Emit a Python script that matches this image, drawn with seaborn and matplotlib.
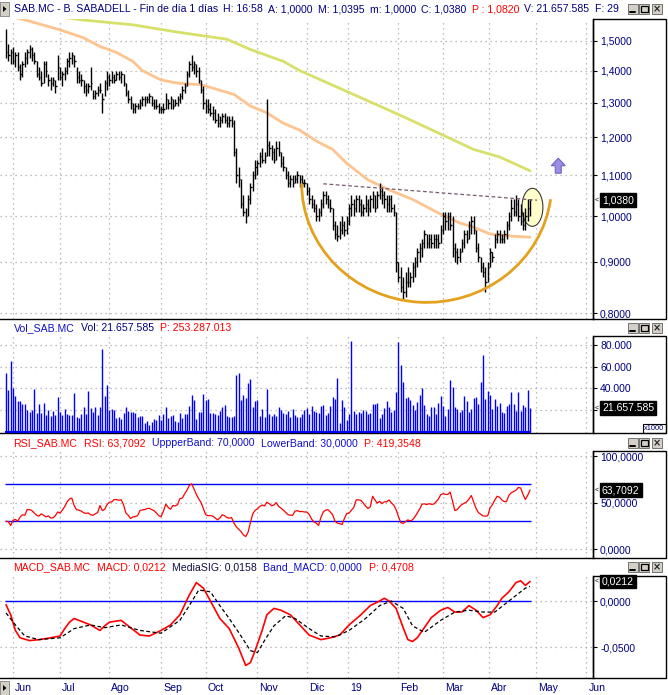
import numpy as np
import seaborn as sns
import matplotlib
matplotlib.use("Agg")
import matplotlib.pyplot as plt
from matplotlib.patches import Rectangle, Ellipse, Arc, Polygon
from matplotlib.lines import Line2D
from matplotlib.transforms import ScaledTranslation
from matplotlib.ticker import NullLocator

# ---------------- data ----------------
months = ["Jun", "Jul", "Ago", "Sep", "Oct", "Nov", "Dic", "19", "Feb", "Mar", "Abr", "May", "Jun"]
month_day = [3, 23, 44, 66, 85, 107, 128, 145.5, 167, 186, 205.5, 225.5, 247]

highs = [
    1.54, 1.49, 1.47, 1.48, 1.46, 1.46, 1.42, 1.43, 1.46, 1.47,
    1.485, 1.48, 1.46, 1.43, 1.41, 1.40, 1.43, 1.43, 1.39, 1.38,
    1.38, 1.37, 1.45, 1.41, 1.40, 1.41, 1.44, 1.46, 1.46, 1.45,
    1.41, 1.40, 1.39, 1.37, 1.36, 1.36, 1.41, 1.34, 1.34, 1.35,
    1.36, 1.33, 1.37, 1.40, 1.39, 1.40, 1.39, 1.40, 1.40, 1.40,
    1.39, 1.36, 1.34, 1.32, 1.30, 1.30, 1.30, 1.31, 1.32, 1.32,
    1.32, 1.33, 1.32, 1.31, 1.31, 1.30, 1.29, 1.30, 1.33, 1.31,
    1.32, 1.31, 1.31, 1.32, 1.33, 1.35, 1.36, 1.40, 1.43, 1.45,
    1.43, 1.42, 1.41, 1.37, 1.35, 1.31, 1.31, 1.30, 1.29, 1.28,
    1.27, 1.26, 1.27, 1.27, 1.26, 1.26, 1.26, 1.25, 1.17, 1.12,
    1.09, 1.05, 1.02, 1.05, 1.08, 1.11, 1.14, 1.14, 1.16, 1.17,
    1.16, 1.31, 1.19, 1.18, 1.17, 1.19, 1.19, 1.16, 1.15, 1.12,
    1.11, 1.10, 1.10, 1.10, 1.11, 1.10, 1.10, 1.09, 1.08, 1.07,
    1.05, 1.04, 1.03, 1.02, 1.04, 1.06, 1.06, 1.05, 1.04, 1.02,
    0.99, 0.98, 0.99, 1.00, 0.99, 1.00, 1.03, 1.05, 1.04, 1.05,
    1.05, 1.04, 1.03, 1.05, 1.04, 1.05, 1.06, 1.05, 1.06, 1.08,
    1.07, 1.06, 1.05, 1.05, 1.05, 1.03, 1.01, 0.90, 0.89, 0.87,
    0.88, 0.89, 0.88, 0.90, 0.91, 0.93, 0.94, 0.95, 0.97, 0.96,
    0.96, 0.96, 0.96, 0.96, 0.96, 0.98, 1.01, 1.01, 1.01, 1.01,
    1.00, 0.94, 0.93, 0.93, 0.95, 0.97, 0.97, 0.99, 1.00, 1.00,
    0.97, 0.94, 0.91, 0.90, 0.89, 0.90, 0.93, 0.92, 0.96, 0.97,
    0.97, 0.96, 0.97, 0.99, 1.01, 1.04, 1.04, 1.05, 1.04, 1.03,
    1.01, 1.02, 1.04, 1.0395]

lows = [
    1.44, 1.43, 1.42, 1.42, 1.41, 1.40, 1.37, 1.38, 1.41, 1.42,
    1.44, 1.43, 1.42, 1.38, 1.37, 1.35, 1.36, 1.38, 1.35, 1.34,
    1.35, 1.33, 1.37, 1.37, 1.35, 1.37, 1.39, 1.41, 1.42, 1.41,
    1.36, 1.36, 1.35, 1.33, 1.32, 1.33, 1.34, 1.31, 1.31, 1.32,
    1.33, 1.27, 1.32, 1.34, 1.35, 1.36, 1.36, 1.37, 1.37, 1.36,
    1.35, 1.32, 1.30, 1.28, 1.27, 1.27, 1.28, 1.28, 1.29, 1.29,
    1.30, 1.30, 1.29, 1.28, 1.28, 1.27, 1.27, 1.27, 1.28, 1.28,
    1.28, 1.28, 1.29, 1.29, 1.30, 1.31, 1.33, 1.35, 1.38, 1.40,
    1.39, 1.38, 1.36, 1.33, 1.28, 1.27, 1.27, 1.26, 1.25, 1.24,
    1.23, 1.23, 1.24, 1.24, 1.23, 1.23, 1.23, 1.15, 1.08, 1.07,
    1.02, 1.00, 0.985, 1.00, 1.03, 1.06, 1.09, 1.10, 1.12, 1.13,
    1.13, 1.15, 1.15, 1.14, 1.13, 1.14, 1.15, 1.12, 1.11, 1.09,
    1.07, 1.07, 1.07, 1.08, 1.08, 1.07, 1.07, 1.07, 1.05, 1.03,
    1.02, 1.01, 0.99, 0.99, 1.00, 1.02, 1.03, 1.02, 1.01, 0.97,
    0.95, 0.945, 0.95, 0.96, 0.955, 0.96, 0.98, 1.00, 1.00, 1.01,
    1.01, 1.00, 1.00, 1.01, 1.00, 1.01, 1.02, 1.01, 1.02, 1.04,
    1.03, 1.02, 1.01, 1.01, 1.01, 1.00, 0.88, 0.86, 0.84, 0.825,
    0.83, 0.85, 0.85, 0.86, 0.87, 0.89, 0.90, 0.91, 0.93, 0.93,
    0.93, 0.93, 0.93, 0.93, 0.93, 0.94, 0.96, 0.97, 0.97, 0.97,
    0.91, 0.90, 0.895, 0.90, 0.92, 0.93, 0.94, 0.95, 0.96, 0.96,
    0.92, 0.90, 0.88, 0.87, 0.84, 0.86, 0.89, 0.90, 0.93, 0.94,
    0.94, 0.94, 0.94, 0.95, 0.97, 0.99, 1.00, 1.00, 0.99, 0.98,
    0.97, 0.97, 0.99, 1.00]

closes = [
    1.46, 1.45, 1.46, 1.43, 1.45, 1.41, 1.39, 1.42, 1.44, 1.46,
    1.47, 1.45, 1.43, 1.39, 1.38, 1.36, 1.42, 1.40, 1.37, 1.36,
    1.37, 1.35, 1.41, 1.38, 1.39, 1.40, 1.43, 1.44, 1.45, 1.43,
    1.38, 1.37, 1.37, 1.35, 1.34, 1.35, 1.36, 1.32, 1.33, 1.34,
    1.34, 1.31, 1.36, 1.38, 1.37, 1.38, 1.37, 1.39, 1.38, 1.39,
    1.36, 1.33, 1.31, 1.30, 1.28, 1.29, 1.29, 1.30, 1.31, 1.31,
    1.31, 1.32, 1.30, 1.29, 1.29, 1.28, 1.28, 1.28, 1.31, 1.30,
    1.31, 1.29, 1.30, 1.31, 1.32, 1.34, 1.35, 1.39, 1.42, 1.41,
    1.42, 1.40, 1.37, 1.34, 1.30, 1.29, 1.28, 1.27, 1.27, 1.25,
    1.24, 1.25, 1.26, 1.25, 1.24, 1.25, 1.24, 1.16, 1.10, 1.09,
    1.03, 1.01, 1.00, 1.04, 1.07, 1.10, 1.12, 1.13, 1.15, 1.14,
    1.15, 1.18, 1.17, 1.16, 1.14, 1.17, 1.16, 1.13, 1.12, 1.10,
    1.08, 1.09, 1.08, 1.09, 1.10, 1.09, 1.08, 1.08, 1.06, 1.04,
    1.03, 1.02, 1.00, 1.01, 1.03, 1.05, 1.04, 1.03, 1.02, 0.98,
    0.96, 0.955, 0.97, 0.98, 0.97, 0.99, 1.02, 1.03, 1.02, 1.04,
    1.03, 1.01, 1.02, 1.03, 1.02, 1.04, 1.05, 1.02, 1.05, 1.06,
    1.05, 1.04, 1.03, 1.04, 1.02, 1.01, 0.90, 0.87, 0.85, 0.84,
    0.86, 0.86, 0.87, 0.89, 0.90, 0.92, 0.93, 0.94, 0.96, 0.94,
    0.95, 0.94, 0.95, 0.95, 0.94, 0.97, 1.00, 0.99, 1.00, 0.98,
    0.93, 0.92, 0.91, 0.92, 0.94, 0.96, 0.95, 0.98, 0.99, 0.97,
    0.93, 0.91, 0.89, 0.88, 0.86, 0.89, 0.92, 0.91, 0.95, 0.96,
    0.95, 0.95, 0.96, 0.98, 1.00, 1.02, 1.01, 1.03, 1.00, 0.99,
    0.98, 1.00, 1.02, 1.038]

# volume in thousands
volume_k = [
    54, 38.6, 65.4, 40, 33, 28, 28, 25.6, 25.6, 20,
    18, 20, 39.5, 17.3, 25.6, 17.3, 26.5, 15.4, 20, 14.5,
    19, 15.4, 32, 18, 15.4, 21, 16.4, 15.4, 15.4, 35.8,
    13.6, 12.7, 16.4, 22.8, 16.4, 37.6, 22, 18, 22.8, 15.4,
    22.8, 76.5, 33, 43.2, 20, 21, 20, 12.7, 13.6, 11.7,
    17.3, 22.8, 19, 18, 18, 17.3, 13.6, 14.5, 14.5, 8,
    9.9, 6.2, 9, 11.7, 10.8, 15.4, 10.8, 16.4, 22.8, 12.7,
    14.5, 15.4, 9.9, 9, 17.3, 12.7, 16.4, 16.4, 23.8, 34,
    29.3, 11.7, 18, 18, 34.9, 29.3, 30.2, 17.3, 17.3, 16.4,
    15.4, 19, 22.8, 24.7, 14.5, 13.6, 13.6, 14.5, 52.5, 54.3,
    29.3, 34, 31.2, 45, 48.8, 22.8, 28.4, 29.3, 14.5, 21,
    13.6, 39.5, 16.4, 14.5, 16.4, 14.5, 22.8, 20, 17.3, 16.4,
    19, 13.6, 21, 15.4, 13.6,
    13.3, 16, 19.8, 21.6, 16, 23.5, 18.8, 17.9, 17, 23.5,
    24.4, 15.1, 17, 23.5, 31.8, 29.9, 49.4, 7.7, 29, 22.5,
    10.5, 16, 84, 18.8, 16, 17.9, 17, 19.8, 18.8, 16,
    17, 25.3, 25.3, 26.2, 12.3, 16, 21.6, 28.1, 22.5, 17.9,
    19.8, 36.4, 82.7, 61.4, 45.7, 30.9, 31.8, 29, 24.4, 19.8,
    27.2, 33.6, 40.1, 24.4, 16, 14.2, 22.5, 22.5, 16, 26.2,
    32.7, 23.5, 14.2, 20.7, 47.5, 41, 22.5, 20.7, 17.9, 19.8,
    32.7, 28.1, 17.9, 20.7, 30.9, 31.8, 25.3, 45.7, 70.7, 29.9,
    37.3, 33.6, 20.7, 29.9, 23.5, 26.2, 17.9, 17, 23.5, 25.3,
    36.4, 25.3, 18.8, 36.4, 18.8, 24.4, 22.5, 38.3, 21.657]

rsi = [
    30, 29.5, 25.5, 31, 32, 30, 34.5, 37, 36.5, 42.6,
    42.6, 41.5, 39, 36.5, 35.5, 38, 36.5, 34.7, 35.8, 33.5,
    33.8, 36, 40, 38.8, 42, 46, 51, 54, 55, 47,
    42.5, 42, 41, 39.2, 38.5, 39, 37, 36.5, 38, 39.5,
    47, 41.5, 43, 48, 50.5, 51, 53.4, 53.4, 52.7, 53.3,
    48, 39, 36.5, 33, 34.7, 35, 36, 41.5, 42.3, 42.6,
    43.7, 44, 42.6, 41.4, 39, 36, 34.9, 41, 48.5, 45,
    43, 47, 46.6, 48, 54.3, 55, 59.5, 63.5, 68.5, 70.5,
    65, 59, 54.3, 50.2, 43.5, 37, 36, 36.2, 35.5, 33.6,
    31.5, 33.5, 37, 36, 34, 33.3, 34, 28, 24, 21.5,
    18.8, 15.3, 13.5, 18, 28.6, 38, 41.8, 43.4, 46, 47.5,
    46.5, 50.5, 49, 46.8, 47.5, 50.2, 46, 44.2, 42, 39.5,
    37.1, 36.5, 36.5, 41, 41.5, 40.4, 40.6, 40, 40, 37.5,
    32.5, 29.4, 28, 25.5, 34, 40, 42, 42.5, 40, 37,
    30, 28, 27.4, 26.4, 33, 38.4, 38.8, 42, 45, 53,
    53.2, 52.5, 49.8, 46.5, 43.8, 45.5, 57, 53, 49.5, 51.5,
    49, 51, 51, 53, 49.8, 47.5, 42.5, 35, 28.5, 27.7,
    29.5, 31.5, 30.4, 31.5, 34.8, 39, 43, 48.4, 48.8, 48,
    49, 48.3, 48.5, 51, 54, 58.8, 59.8, 59, 59, 61.5,
    52, 41.5, 42.5, 45.8, 48, 49.4, 50.9, 54, 57.8, 51,
    44, 39.5, 37.5, 35.8, 35.5, 36, 44.5, 48, 53, 57,
    56, 53, 51.2, 51.4, 58, 60.8, 62, 63.6, 66.5, 66,
    59, 53.5, 58, 63.7092]

macd_day = [0, 2, 4, 6, 10, 14, 19, 23, 25, 27, 29, 31, 36, 40, 42, 44, 49, 53, 57, 61,
            66, 70, 74, 78, 81, 84, 87, 91, 95, 99, 102, 104, 106, 109, 111, 114, 117, 121, 125, 129,
            134, 138, 142, 146, 151, 155, 159, 161, 163, 166, 169, 171, 173, 175, 178, 181, 185, 188, 191, 194,
            197, 200, 203, 206, 209, 211, 214, 217, 219, 221, 223]
macd_val = [-0.004, -0.015, -0.032, -0.040, -0.043, -0.042, -0.040, -0.038, -0.030, -0.023,
            -0.019, -0.021, -0.026, -0.032, -0.027, -0.023, -0.021, -0.029, -0.037, -0.038,
            -0.032, -0.026, -0.015, 0.0065, 0.020, 0.014, 0.0, -0.019, -0.030, -0.051,
            -0.070, -0.067, -0.054, -0.032, -0.015, -0.008, -0.010, -0.015, -0.026, -0.037,
            -0.042, -0.040, -0.037, -0.026, -0.015, -0.005, 0.0, 0.003, 0.0, -0.008,
            -0.029, -0.042, -0.044, -0.040, -0.029, -0.018, -0.010, -0.007, -0.012, -0.012,
            -0.005, -0.010, -0.018, -0.015, -0.005, 0.003, 0.010, 0.020, 0.022, 0.017, 0.0212]
sig_day = [0, 4, 8, 14, 23, 29, 36, 42, 49, 57, 66, 74, 78, 82, 87, 91, 95, 100, 104, 107,
           110, 114, 119, 123, 129, 134, 140, 146, 153, 159, 164, 169, 173, 178, 185, 191, 197, 203, 208, 212,
           217, 221, 223]
sig_val = [-0.013, -0.026, -0.038, -0.042, -0.040, -0.030, -0.026, -0.029, -0.026, -0.032,
           -0.035, -0.021, -0.005, 0.012, 0.010, -0.005, -0.019, -0.038, -0.054, -0.056,
           -0.043, -0.027, -0.016, -0.019, -0.030, -0.038, -0.039, -0.032, -0.019, -0.005,
           0.0, -0.008, -0.027, -0.034, -0.021, -0.012, -0.010, -0.012, -0.012, -0.004,
           0.006, 0.014, 0.0158]

ma50_day = [0, 8, 23, 33, 40, 47, 54, 58, 66, 73, 83, 90, 97, 104, 111, 118, 125, 132, 139,
            145, 154, 163, 173, 185, 193, 199, 206, 216, 223]
ma50_val = [1.59, 1.574, 1.538, 1.51, 1.48, 1.46, 1.43, 1.40, 1.37, 1.36, 1.355, 1.34, 1.325,
            1.29, 1.27, 1.24, 1.22, 1.19, 1.167, 1.13, 1.088, 1.063, 1.04, 1.005, 0.985, 0.975,
            0.96, 0.955, 0.953]
ma200_day = [0, 23, 32, 54, 73, 94, 104, 118, 125, 146, 168, 189, 199, 210, 223]
ma200_val = [1.63, 1.585, 1.574, 1.556, 1.53, 1.505, 1.47, 1.43, 1.40, 1.331, 1.262, 1.197,
             1.167, 1.147, 1.111]

upper_band, lower_band, macd_band = 70, 30, 0.0
trend_day = [135, 226]
trend_val = [1.078, 1.038]
last_close, last_vol, last_rsi, last_macd = 1.038, 21.657585, 63.7092, 0.0212

price_ticks = [0.8, 0.9, 1.0, 1.1, 1.2, 1.3, 1.4, 1.5]
vol_ticks = [20, 40, 60, 80]
rsi_ticks = [0, 50, 100]
macd_ticks = [-0.05, 0.0]

days = np.arange(len(closes))

# ---------------- style ----------------
sns.set_style("white")
plt.rcParams['font.family'] = ['Liberation Sans', 'DejaVu Sans']

NAVY = '#000080'
BLUE = '#1010D0'
RED = '#FF0000'
W, H = 668, 695
RIGHT = 593
PX0, PX_DAY = 6, 2.35
FS = 7.6

fig = plt.figure(figsize=(W / 100, H / 100), dpi=100)
fig.patch.set_facecolor('white')


def rect(x0, y0, x1, y1):
    return [x0 / W, 1 - y1 / H, (x1 - x0) / W, (y1 - y0) / H]


def comma(v, n=4):
    return f"{v:.{n}f}".replace('.', ',')


panes = {'p': (19, 319), 'v': (336, 433), 'r': (451, 558), 'm': (576, 678)}
ax_p = fig.add_axes(rect(0, panes['p'][0], RIGHT, panes['p'][1]))
ax_v = fig.add_axes(rect(0, panes['v'][0], RIGHT, panes['v'][1]))
ax_r = fig.add_axes(rect(0, panes['r'][0], RIGHT, panes['r'][1]))
ax_m = fig.add_axes(rect(0, panes['m'][0], RIGHT, panes['m'][1]))
xlim = (-PX0 / PX_DAY, (RIGHT - PX0) / PX_DAY)

ax_p.set_yscale('log')

# price pane
sns.lineplot(x=ma200_day, y=ma200_val, ax=ax_p, color='#D8E06C', linewidth=2.0, zorder=2)
sns.lineplot(x=ma50_day, y=ma50_val, ax=ax_p, color='#FDC490', linewidth=2.0, zorder=2)
ax_p.vlines(days, lows, highs, color='black', lw=1.0, zorder=3)
ax_p.hlines(closes, days, days + 0.6, color='black', lw=1.0, zorder=3)
ax_p.plot(trend_day, trend_val, color='#7A5A70', lw=0.9, dashes=(3, 2), zorder=3)

# volume pane
ax_v.vlines(days, 0, volume_k, color='#0000FF', lw=1.0, zorder=3)
ax_v.hlines(0, days[0] - 0.4, days[-1] + 0.4, color='#0000FF', lw=1.5, zorder=3)

# rsi pane
sns.lineplot(x=days, y=rsi, ax=ax_r, color=RED, linewidth=0.9, zorder=3)
ax_r.hlines([upper_band, lower_band], days[0] - 0.4, days[-1] + 0.4, color='#0000FF', lw=1.0, zorder=2)

# macd pane
ax_m.hlines(macd_band, days[0] - 0.4, days[-1] + 0.4, color='#0000FF', lw=1.0, zorder=2)
sns.lineplot(x=macd_day, y=macd_val, ax=ax_m, color=RED, linewidth=1.2, zorder=3)
sns.lineplot(x=sig_day, y=sig_val, ax=ax_m, color='black', linewidth=0.9, zorder=3)
ax_m.lines[-1].set_dashes([3, 2])

ylims = {'p': (0.789, 1.577), 'v': (-1.3, 88.5), 'r': (-9.7, 105.9), 'm': (-0.0837, 0.0272)}
ticks = {
    'p': (price_ticks, [comma(t) for t in price_ticks]),
    # the 20.000 label sits under the last-value box in the original
    'v': (vol_ticks, ["" if t == 20 else f"{t}.000" for t in vol_ticks]),
    'r': (rsi_ticks, [comma(t) for t in rsi_ticks]),
    'm': (macd_ticks, [comma(t) for t in macd_ticks]),
}
for key, ax in zip('pvrm', [ax_p, ax_v, ax_r, ax_m]):
    ax.set_xlim(*xlim)
    ax.set_ylim(*ylims[key])
    ax.set_xlabel('')
    ax.set_ylabel('')
    ax.set_facecolor('white')
    for s in ['left', 'top']:
        ax.spines[s].set_visible(False)
    for s in ['right', 'bottom']:
        ax.spines[s].set_visible(True)
        ax.spines[s].set_color('black')
        ax.spines[s].set_linewidth(1.0)
    ax.yaxis.tick_right()
    ax.set_yticks(ticks[key][0], labels=ticks[key][1])
    ax.yaxis.set_minor_locator(NullLocator())
    ax.set_xticks(month_day)
    ax.tick_params(axis='y', direction='out', length=2.9, width=0.8, color='black',
                   labelcolor=NAVY, labelsize=7.5, pad=2.2)
    ax.tick_params(axis='x', length=0, labelbottom=False)
    ax.grid(True, color='#A8A8A8', linestyle=(0, (1, 3)), linewidth=0.9)
    ax.set_axisbelow(True)
    top, bot = panes[key]
    fig.add_artist(Rectangle((RIGHT / W, 1 - bot / H), (666 - RIGHT) / W, (bot - top) / H,
                             transform=fig.transFigure, fill=False, ec='black', lw=1.0))

# month axis at the bottom
ax_m.set_xticks(month_day, labels=months)
ax_m.tick_params(axis='x', direction='out', length=6.5, width=0.8, color='black',
                 labelcolor=NAVY, labelsize=FS, pad=-2.9, labelbottom=True)
for lbl in ax_m.get_xticklabels():
    lbl.set_ha('left')
    lbl.set_transform(lbl.get_transform() + ScaledTranslation(0.02, 0, fig.dpi_scale_trans))


def value_box(ax, val, txt):
    tr = ax.get_yaxis_transform()
    ax.text(1 + 3.5 / RIGHT, val, '<', transform=tr, fontsize=5, ha='center', va='center',
            color='black', clip_on=False, zorder=10)
    ax.text(1 + 9 / RIGHT, val, txt, transform=tr, fontsize=7.5, ha='left', va='center',
            color='white', clip_on=False, zorder=10,
            bbox=dict(boxstyle='square,pad=0.18', fc='black', ec='black'))


value_box(ax_p, last_close, comma(last_close))
value_box(ax_v, last_vol, "21.657.585")
value_box(ax_r, last_rsi, comma(last_rsi))
value_box(ax_m, last_macd, comma(last_macd))

# x1000 tag
fig.add_artist(Rectangle((643 / W, 1 - 433 / H), 23 / W, 9 / H, transform=fig.transFigure,
                         fill=False, ec='black', lw=0.8))
fig.text(654.5 / W, 1 - 428.5 / H, 'x1000', fontsize=5.3, color=NAVY, ha='center', va='center')

# annotations drawn on the price pane
inv = fig.transFigure.inverted()


def to_fig(x, y):
    return inv.transform(ax_p.transData.transform((x, y)))


cx, cy = to_fig(179, 1.079)
ax_p.add_patch(Arc((cx, cy), 250 / W, 238 / H, theta1=180, theta2=353, transform=fig.transFigure,
                   color='#E3A11E', lw=2.0, zorder=4, clip_on=False))
ex, ey = to_fig(224, 1.021)
ax_p.add_patch(Ellipse((ex, ey), 21 / W, 38 / H, transform=fig.transFigure, fc='#FFFFCC',
                       ec='#3A3A30', lw=0.8, zorder=1.5, clip_on=False))
axx, axy = to_fig(235, 1.124)
arrow_pts = [(0, 7.5), (7, 0), (3, 0), (3, -7.5), (-3, -7.5), (-3, 0), (-7, 0)]
ax_p.add_patch(Polygon([(axx + dx / W, axy + dy / H) for dx, dy in arrow_pts], closed=True,
                       transform=fig.transFigure, fc='#9C8EE2', ec='#6E62C8', lw=0.8, zorder=4,
                       clip_on=False))

# headers
renderer = fig.canvas.get_renderer()


def header(y, parts, x=13.5, gap=6.5):
    for s, c in parts:
        t = fig.text(x / W, 1 - y / H, s, color=c, fontsize=FS, va='center', ha='left')
        x += t.get_window_extent(renderer=renderer).width + gap


header(9, [("SAB.MC - B. SABADELL - Fin de día 1 días", NAVY), ("H: 16:58", NAVY),
           ("A: 1,0000", NAVY), ("M: 1,0395", NAVY), ("m: 1,0000", NAVY), ("C: 1,0380", NAVY),
           ("P : 1,0820", RED), ("V: 21.657.585", NAVY), ("F: 29", NAVY)], gap=5.3)
header(328, [("Vol_SAB.MC", BLUE), ("Vol: 21.657.585", NAVY), ("P: 253.287.013", RED)])
header(443, [("RSI_SAB.MC", RED), ("RSI: 63,7092", RED), ("UppperBand: 70,0000", BLUE),
             ("LowerBand: 30,0000", BLUE), ("P: 419,3548", RED)])
header(567, [("MACD_SAB.MC", RED), ("MACD: 0,0212", RED), ("MediaSIG: 0,0158", '#101040'),
             ("Band_MACD: 0,0000", BLUE), ("P: 0,4708", RED)])


def buttons(yc):
    for x0, kind in [(628, 'min'), (639, 'max'), (652, 'close')]:
        fig.add_artist(Rectangle((x0 / W, 1 - (yc + 5) / H), 10 / W, 10 / H, transform=fig.transFigure,
                                 fc='#D4D0C8', ec='#606060', lw=0.6, zorder=6))
        c = x0 + 5
        if kind == 'min':
            fig.add_artist(Line2D([(c - 3) / W, (c + 2) / W], [1 - (yc + 2.5) / H] * 2,
                                  transform=fig.transFigure, color='black', lw=1.4, zorder=7))
        elif kind == 'max':
            fig.add_artist(Rectangle(((c - 3.5) / W, 1 - (yc + 3) / H), 7 / W, 6 / H,
                                     transform=fig.transFigure, fill=False, ec='black', lw=0.9, zorder=7))
        else:
            fig.text(c / W, 1 - yc / H, '×', fontsize=7, fontweight='bold', ha='center', va='center',
                     zorder=7, family='DejaVu Sans')


for yc in [9, 328, 443, 567]:
    buttons(yc)


def icon(y0, y1):
    fig.add_artist(Rectangle((0, 1 - y1 / H), 9 / W, (y1 - y0) / H, transform=fig.transFigure,
                             fc='#D4D0C8', ec='#808080', lw=0.6, zorder=6))
    yc = (y0 + y1) / 2
    fig.add_artist(Polygon([(3 / W, 1 - (yc - 3) / H), (3 / W, 1 - (yc + 3) / H), (6.5 / W, 1 - yc / H)],
                           closed=True, transform=fig.transFigure, fc='black', ec='none', zorder=7))


icon(2, 16)
icon(681, 695)

fig.savefig('out.png', dpi=100)
